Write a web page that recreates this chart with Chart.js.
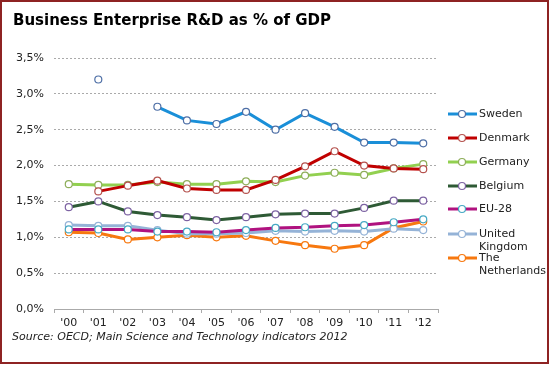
<!DOCTYPE html>
<html>
<head>
<meta charset="utf-8">
<script src="https://cdn.jsdelivr.net/npm/chart.js@4/dist/chart.umd.min.js"></script>
<style>
  body { margin: 0; background: #fff; }
  #wrap { width: 551px; height: 365px; }
</style>
</head>
<body>
<div id="wrap"><canvas id="rd-chart" width="551" height="365"></canvas></div>
<script>
// years on the x axis
const years = ["'00", "'01", "'02", "'03", "'04", "'05", "'06", "'07", "'08", "'09", "'10", "'11", "'12"];

// business enterprise R&D, % of GDP
const sweden      = [null, 3.20, null, 2.82, 2.63, 2.58, 2.75, 2.50, 2.73, 2.54, 2.32, 2.32, 2.31];
const denmark     = [null, 1.64, 1.72, 1.79, 1.68, 1.66, 1.66, 1.80, 1.99, 2.20, 2.00, 1.96, 1.95];
const germany     = [1.74, 1.73, 1.73, 1.77, 1.74, 1.74, 1.78, 1.77, 1.86, 1.90, 1.87, 1.96, 2.02];
const belgium     = [1.42, 1.50, 1.36, 1.31, 1.28, 1.24, 1.28, 1.32, 1.33, 1.33, 1.41, 1.51, 1.51];
const eu28        = [1.11, 1.11, 1.11, 1.08, 1.08, 1.07, 1.10, 1.13, 1.14, 1.16, 1.17, 1.21, 1.25];
const unitedKingdom = [1.17, 1.16, 1.16, 1.10, 1.05, 1.05, 1.06, 1.09, 1.08, 1.09, 1.08, 1.12, 1.10];
const netherlands = [1.07, 1.06, 0.97, 1.00, 1.03, 1.00, 1.02, 0.95, 0.89, 0.84, 0.89, 1.13, 1.22];

const yTicks = [0, 0.5, 1, 1.5, 2, 2.5, 3, 3.5];

const FONT = 'DejaVu Sans, Verdana, sans-serif';

function series(label, data, lineColor, markerColor) {
  return {
    label: label,
    legendText: label.split('\n'),
    data: data,
    borderColor: lineColor,
    backgroundColor: lineColor,
    borderWidth: 3,
    pointRadius: 3.5,
    pointHoverRadius: 3.5,
    pointBackgroundColor: '#fff',
    pointBorderColor: markerColor,
    pointBorderWidth: 1.2,
    tension: 0,
    spanGaps: false
  };
}

// the title, the source line, the frame and the side legend
const decorations = {
  id: 'decorations',
  afterDraw(chart) {
    const ctx = chart.ctx;
    ctx.save();

    ctx.fillStyle = '#000';
    ctx.font = 'bold 15px ' + FONT;
    ctx.textBaseline = 'middle';
    ctx.textAlign = 'left';
    ctx.fillText('Business Enterprise R&D as % of GDP', 13, 21);

    ctx.fillStyle = '#222';
    ctx.font = 'italic 11px ' + FONT;
    ctx.fillText('Source: OECD; Main Science and Technology indicators 2012', 12, 337);

    // legend
    const rows = [114, 138, 162, 186, 209, 234, 258];
    ctx.font = '11px ' + FONT;
    chart.data.datasets.forEach((ds, i) => {
      const y = rows[i];
      ctx.strokeStyle = ds.borderColor;
      ctx.lineWidth = 3;
      ctx.beginPath();
      ctx.moveTo(448, y);
      ctx.lineTo(477, y);
      ctx.stroke();
      ctx.beginPath();
      ctx.arc(462, y, 3.5, 0, Math.PI * 2);
      ctx.fillStyle = '#fff';
      ctx.fill();
      ctx.lineWidth = 1.2;
      ctx.strokeStyle = ds.pointBorderColor;
      ctx.stroke();
      ctx.fillStyle = '#222';
      ds.legendText.forEach((t, k) => ctx.fillText(t, 479, y + k * 13));
    });

    ctx.strokeStyle = '#8E2323';
    ctx.lineWidth = 2;
    ctx.strokeRect(1, 1, 547, 362);
    ctx.restore();
  }
};

const ctx = document.getElementById('rd-chart').getContext('2d');
const rdChart = new Chart(ctx, {
  type: 'line',
  data: {
    labels: years,
    datasets: [
      series('Sweden', sweden, '#1A8FD8', '#4E6FA6'),
      series('Denmark', denmark, '#C00000', '#B5524E'),
      series('Germany', germany, '#92D050', '#8EAE5A'),
      series('Belgium', belgium, '#2E5A35', '#7D63A3'),
      series('EU-28', eu28, '#B0127F', '#46A9C4'),
      series('United\nKingdom', unitedKingdom, '#95B3D7', '#95B3D7'),
      series('The\nNetherlands', netherlands, '#F7780F', '#F7780F')
    ]
  },
  options: {
    responsive: false,
    animation: false,
    events: [],
    layout: { padding: { left: 13, right: 113, top: 58, bottom: 30 } },
    plugins: {
      legend: { display: false },
      title: { display: false },
      tooltip: { enabled: false }
    },
    scales: {
      x: {
        offset: true,
        afterFit(scale) { scale.height = 26; },
        grid: {
          offset: true,
          drawOnChartArea: false,
          drawTicks: true,
          tickLength: 4,
          tickColor: '#AAAAAA'
        },
        border: { display: true, color: '#AAAAAA', dash: [2, 2] },
        ticks: { color: '#222', padding: 4, font: { family: FONT, size: 11 } }
      },
      y: {
        min: 0,
        max: 3.5,
        afterFit(scale) { scale.width = 41; },
        afterBuildTicks(scale) { scale.ticks = yTicks.map(v => ({ value: v })); },
        grid: { color: '#AAAAAA', drawTicks: false },
        border: { display: false, dash: [2, 2] },
        ticks: {
          color: '#222',
          padding: 10,
          font: { family: FONT, size: 11 },
          callback: v => v.toFixed(1).replace('.', ',') + '%'
        }
      }
    }
  },
  plugins: [decorations]
});
// dashed horizontal gridlines
rdChart.options.scales.y.grid.tickBorderDash = [2, 2];
rdChart.options.scales.y.border.dash = [2, 2];
rdChart.update();
</script>
</body>
</html>
